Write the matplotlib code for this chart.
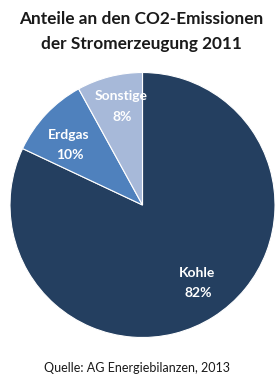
import matplotlib
matplotlib.use("Agg")
import matplotlib.pyplot as plt

categories = ["Kohle", "Erdgas", "Sonstige"]
values = [82, 10, 8]
colors = ["#243F60", "#4F81BD", "#A7B9D9"]
title_lines = ["Anteile an den CO2-Emissionen", "der Stromerzeugung 2011"]
source = "Quelle: AG Energiebilanzen, 2013"

plt.rcParams['font.family'] = ['Lato', 'DejaVu Sans']

W, H = 276, 376
fig = plt.figure(figsize=(W / 100, H / 100), dpi=100)
cx, cy, r = 142.5, 205.0, 132.5
ax = fig.add_axes([(cx - r) / W, (H - cy - r) / H, 2 * r / W, 2 * r / H])
wedges, _ = ax.pie(values, colors=colors, startangle=90, counterclock=False,
                   radius=1.0, wedgeprops=dict(linewidth=0.8, edgecolor="white"))
ax.set_xlim(-1, 1)
ax.set_ylim(-1, 1)
ax.set_aspect("equal")
ax.axis("off")

label_pos = [(0.41, -0.51), (-0.56, 0.53), (-0.16, 0.82)]
for cat, v, (x, y) in zip(categories, values, label_pos):
    ax.text(x, y, cat, ha="center", va="center", color="white",
            fontsize=10, fontweight="bold")
    ax.text(x + 0.01, y - 0.155, f"{v}%", ha="center", va="center", color="white",
            fontsize=10, fontweight="bold")

fig.text(141 / W, 1 - 19 / H, title_lines[0], ha="center", va="center", fontsize=12.4,
         fontweight="bold", color="#1a1a1a")
fig.text(141 / W, 1 - 44 / H, title_lines[1], ha="center", va="center", fontsize=12.4,
         fontweight="bold", color="#1a1a1a")
fig.text(136.5 / W, 1 - 368 / H, source, ha="center", va="center", fontsize=9.0,
         color="#1a1a1a")

fig.savefig("out.png", dpi=100)
